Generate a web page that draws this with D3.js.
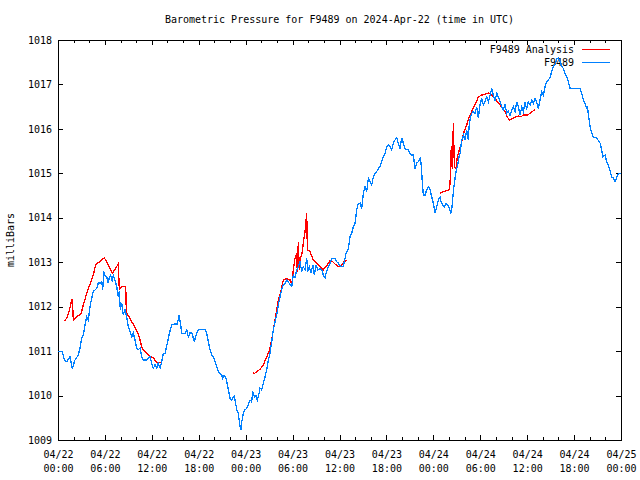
<!DOCTYPE html>
<html><head><meta charset="utf-8">
<script src="https://cdn.jsdelivr.net/npm/d3@7"></script>
<style>
body{margin:0;background:#fff}
svg{display:block}
text{font-family:"DejaVu Sans Mono","Liberation Mono",monospace;font-size:10px;fill:#000}
</style>
</head><body>
<svg id="chart" width="640" height="480"></svg>
<script>
// ---- data (hours after 2024-04-22 00:00 UTC, pressure in mb) ----
const blueHours = [
0,0.26,0.55,0.81,1.11,1.53,1.83,2.17,2.60,2.81,
3.03,3.24,3.45,3.67,3.88,4.09,4.31,4.51,4.95,5.15,
5.37,5.59,5.72,5.85,6.01,6.23,6.43,6.56,6.74,6.94,
7.07,7.29,7.51,7.71,7.84,7.97,8.15,8.35,8.57,8.79,
8.99,9.21,9.43,9.63,9.85,10.07,10.27,10.49,10.71,10.91,
11.34,11.55,11.77,11.98,12.19,12.41,12.62,12.83,13.05,13.26,
13.47,13.69,13.98,14.24,14.54,14.96,15.26,15.48,15.69,15.82,
16.24,16.46,16.67,16.88,17.10,17.30,17.43,17.65,17.94,18.80,
19.02,19.22,19.44,19.66,19.86,20.08,20.30,20.50,20.72,20.94,
21.07,21.23,21.49,21.58,21.78,22.00,22.22,22.51,22.64,22.86,
23.06,23.28,23.41,23.50,23.70,23.92,24.13,24.34,24.56,24.77,
24.90,25.11,25.32,25.49,25.67,25.84,26.05,26.26,26.48,26.69,
26.90,27.11,27.33,27.54,27.75,27.97,28.18,28.39,28.61,28.82,
29.03,29.25,29.46,29.67,29.89,30.09,30.31,30.53,30.73,30.95,
31.17,31.37,31.59,31.81,31.94,32.14,32.36,32.58,32.78,33.00,
33.22,33.51,33.73,33.93,34.15,34.28,34.57,34.79,35.01,35.43,
35.65,35.85,36.07,36.29,36.49,36.71,36.84,37.13,37.35,37.56,
37.77,37.99,38.20,38.41,38.63,38.84,39.05,39.27,39.48,39.69,
39.90,40.12,40.33,40.54,40.76,40.97,41.18,41.40,41.61,41.82,
42.04,42.25,42.46,42.68,42.88,43.10,43.32,43.52,43.74,43.96,
44.16,44.38,44.60,44.80,45.02,45.24,45.44,45.66,45.88,46.08,
46.30,46.43,46.59,46.72,46.94,47.15,47.36,47.58,47.80,48.00,
48.22,48.43,48.64,48.86,48.99,49.20,49.41,49.63,49.84,50.05,
50.26,50.39,50.56,50.69,50.90,51.12,51.33,51.42,51.63,51.84,
52.05,52.27,52.47,52.60,52.78,52.91,53.11,53.33,53.55,53.75,
53.97,54.19,54.39,54.61,54.83,55.04,55.25,55.47,55.67,55.89,
56.11,56.31,56.53,56.75,56.95,57.17,57.39,57.59,57.81,58.03,
58.23,58.45,58.67,58.87,59.09,59.31,59.51,59.73,59.95,60.15,
60.37,60.59,60.79,61.01,61.23,61.43,61.65,61.86,62.07,62.29,
62.50,62.93,63.15,63.35,63.57,63.79,63.99,64.21,64.43,64.63,
64.85,65.07,65.27,65.49,66.77,66.98,67.19,67.41,67.63,67.70,
67.83,68.05,68.26,68.47,68.90,69.33,69.54,69.67,69.96,70.18,
70.38,70.60,70.82,71.03,71.24,71.46,71.67,72.00
];
const bluePressure = [
1011.00,1010.99,1010.99,1010.80,1010.76,1010.87,1010.61,1010.80,1010.91,1011.07,
1011.30,1011.36,1011.59,1011.77,1011.70,1012.00,1012.19,1012.34,1012.41,1012.53,
1012.53,1012.56,1012.38,1012.79,1012.71,1012.67,1012.53,1012.67,1012.71,1012.56,
1012.70,1012.60,1012.45,1012.22,1012.34,1011.93,1012.08,1011.81,1011.93,1011.77,
1011.55,1011.44,1011.32,1011.41,1011.25,1011.06,1011.03,1011.07,1010.87,1010.80,
1010.80,1010.84,1010.87,1010.73,1010.61,1010.69,1010.62,1010.73,1010.62,1010.76,
1010.95,1010.95,1011.18,1011.40,1011.59,1011.61,1011.61,1011.81,1011.59,1011.40,
1011.40,1011.48,1011.32,1011.41,1011.41,1011.30,1011.21,1011.36,1011.49,1011.49,
1011.40,1011.21,1011.03,1010.91,1010.87,1010.76,1010.65,1010.54,1010.50,1010.46,
1010.39,1010.46,1010.39,1010.31,1010.13,1009.94,1009.90,1009.99,1009.90,1009.68,
1009.60,1009.30,1009.23,1009.41,1009.60,1009.68,1009.71,1009.79,1009.90,1009.86,
1010.09,1009.97,1010.01,1009.90,1010.01,1010.17,1010.13,1010.28,1010.42,1010.58,
1010.80,1010.95,1011.21,1011.48,1011.66,1011.81,1012.04,1012.22,1012.38,1012.49,
1012.53,1012.60,1012.56,1012.49,1012.45,1012.71,1012.65,1012.83,1012.90,1013.01,
1012.79,1012.90,1012.83,1013.09,1012.79,1012.90,1012.75,1012.94,1012.71,1012.94,
1012.83,1012.86,1012.83,1012.71,1012.65,1012.75,1012.90,1012.98,1013.09,1013.09,
1013.01,1012.98,1012.92,1012.90,1012.90,1013.09,1013.20,1013.31,1013.57,1013.65,
1013.80,1013.88,1014.18,1014.32,1014.33,1014.21,1014.55,1014.70,1014.59,1014.89,
1014.81,1014.74,1014.92,1015.00,1015.04,1015.11,1015.15,1015.26,1015.37,1015.45,
1015.60,1015.64,1015.60,1015.53,1015.68,1015.75,1015.80,1015.68,1015.56,1015.80,
1015.68,1015.56,1015.53,1015.53,1015.45,1015.41,1015.41,1015.11,1015.23,1015.26,
1015.34,1015.23,1014.81,1014.51,1014.51,1014.63,1014.70,1014.63,1014.47,1014.33,
1014.10,1014.25,1014.40,1014.47,1014.36,1014.29,1014.25,1014.33,1014.29,1014.21,
1014.10,1014.25,1014.59,1014.78,1015.04,1015.19,1015.41,1015.45,1015.75,1015.86,
1015.75,1015.98,1015.75,1016.13,1016.27,1016.35,1016.39,1016.35,1016.50,1016.24,
1016.54,1016.69,1016.54,1016.61,1016.72,1016.61,1016.76,1016.91,1016.76,1016.65,
1016.80,1016.72,1016.61,1016.50,1016.43,1016.54,1016.35,1016.39,1016.31,1016.43,
1016.50,1016.39,1016.61,1016.50,1016.31,1016.50,1016.39,1016.58,1016.46,1016.61,
1016.54,1016.65,1016.58,1016.69,1016.58,1016.46,1016.65,1016.84,1016.76,1016.95,
1017.06,1017.15,1017.30,1017.40,1017.46,1017.57,1017.60,1017.52,1017.40,1017.36,
1017.25,1017.17,1017.06,1016.91,1016.91,1016.79,1016.65,1016.56,1016.47,1016.52,
1016.31,1016.05,1015.90,1015.82,1015.79,1015.68,1015.51,1015.37,1015.41,1015.26,
1015.17,1015.06,1014.92,1014.89,1014.81,1014.92,1015.00,1015.00
];
// analysis series; null marks a gap in the record
const redHours = [
0.81,1.11,1.41,1.66,1.83,1.96,2.39,2.94,3.24,3.54,
3.88,4.22,4.51,4.82,5.15,5.59,5.92,6.23,6.65,6.94,
7.29,7.71,7.84,8.15,8.66,8.74,9.08,9.43,9.85,10.19,
10.49,10.71,10.91,11.34,11.77,12.19,12.62,13.26,
19,
24.90,25.07,25.41,25.84,26.26,26.69,27.02,27.33,27.54,27.75,
27.97,28.18,28.39,28.61,28.82,29.25,29.67,29.89,30.09,30.31,
30.53,30.60,30.73,30.86,31.04,31.17,31.37,31.59,31.72,31.81,
31.89,32.23,32.65,33.09,33.51,33.93,34.44,34.79,35.13,35.43,
35.85,36.29,36.58,36.92,
42,
48.86,49.28,49.71,50.05,50.14,50.30,50.42,50.56,50.69,50.90,
51.07,51.33,51.63,51.93,52.27,52.60,52.91,53.33,53.75,54.19,
54.74,55.04,55.47,55.89,56.31,56.75,57.17,57.46,57.72,58.03,
58.45,58.87,59.18,59.51,60.03,60.37,60.79,61.01
];
const redPressure = [
1011.68,1011.74,1011.89,1012.08,1012.17,1011.70,1011.77,1011.84,1012.04,1012.22,
1012.41,1012.56,1012.71,1012.94,1012.99,1013.05,1013.10,1013.01,1012.86,1012.75,
1012.84,1012.96,1012.39,1012.45,1012.46,1011.86,1011.77,1011.66,1011.54,1011.41,
1011.25,1011.10,1011.03,1010.95,1010.89,1010.85,1010.74,1010.74,
null,
1010.52,1010.49,1010.54,1010.59,1010.69,1010.87,1011.01,1011.25,1011.48,1011.70,
1011.93,1012.15,1012.26,1012.44,1012.60,1012.63,1012.60,1012.49,1012.83,1013.09,
1013.20,1012.79,1013.46,1012.83,1013.12,1013.16,1013.43,1013.69,1013.95,1014.11,
1013.28,1013.24,1013.05,1012.98,1012.90,1012.83,1012.94,1013.03,1013.01,1012.96,
1012.90,1012.94,1013.01,1013.05,
null,
1014.55,1014.59,1014.61,1014.63,1014.78,1015.62,1015.10,1016.13,1015.15,1015.10,
1015.37,1015.53,1015.71,1015.94,1016.09,1016.27,1016.39,1016.54,1016.72,1016.76,
1016.79,1016.81,1016.76,1016.69,1016.58,1016.49,1016.39,1016.27,1016.20,1016.22,
1016.26,1016.29,1016.27,1016.31,1016.31,1016.35,1016.41,1016.43
];
const yTickValues = [1009,1010,1011,1012,1013,1014,1015,1016,1017,1018];
const xMajorHours = [0,6,12,18,24,30,36,42,48,54,60,66,72];
const xMinorHours = d3.range(0, 73, 2);
const seriesNames = ["F9489 Analysis", "F9489"];
const seriesColors = ["#ff0000", "#0080ff"];
const titleText = "Barometric Pressure for F9489 on 2024-Apr-22 (time in UTC)";
const yLabelText = "milliBars";

// ---- layout ----
const L = 58, R = 621, T = 40, B = 440;
const t0 = Date.UTC(2024, 3, 22);
const toDate = h => new Date(t0 + h * 3600000);

const x = d3.scaleUtc().domain([toDate(0), toDate(72)]).range([L, R]);
const y = d3.scaleLinear().domain([1009, 1018]).range([B, T]);

const svg = d3.select("#chart");

// title
svg.append("text").attr("x", (L + R) / 2).attr("y", 23)
  .attr("text-anchor", "middle").text(titleText);

// y label
svg.append("text").attr("transform", "translate(14,240) rotate(-90)")
  .attr("text-anchor", "middle").text(yLabelText);

// axes (ticks inward)
const fmtDate = d3.utcFormat("%m/%d"), fmtTime = d3.utcFormat("%H:%M");

const gMinorB = svg.append("g").attr("transform", `translate(0,${B})`)
  .call(d3.axisBottom(x).tickValues(xMinorHours.map(toDate)).tickSize(-3).tickFormat(""));
const gMinorT = svg.append("g").attr("transform", `translate(0,${T})`)
  .call(d3.axisTop(x).tickValues(xMinorHours.map(toDate)).tickSize(-3).tickFormat(""));
const gB = svg.append("g").attr("transform", `translate(0,${B})`)
  .call(d3.axisBottom(x).tickValues(xMajorHours.map(toDate)).tickSize(-5).tickFormat(""));
const gT = svg.append("g").attr("transform", `translate(0,${T})`)
  .call(d3.axisTop(x).tickValues(xMajorHours.map(toDate)).tickSize(-5).tickFormat(""));
const gL = svg.append("g").attr("transform", `translate(${L},0)`)
  .call(d3.axisLeft(y).tickValues(yTickValues).tickSize(-5).tickPadding(6).tickFormat(d3.format("d")));
const gR = svg.append("g").attr("transform", `translate(${R},0)`)
  .call(d3.axisRight(y).tickValues(yTickValues).tickSize(-5).tickFormat(""));

[gMinorB, gMinorT, gB, gT, gL, gR].forEach(g => {
  g.select(".domain").remove();
  g.attr("font-family", null).attr("font-size", null);
  g.selectAll("line").attr("stroke", "#000").attr("shape-rendering", "crispEdges");
  g.selectAll("text").attr("fill", "#000");
});

// two-line x labels
gB.selectAll(".tick text").each(function(d) {
  const t = d3.select(this).attr("y", null).attr("dy", null);
  t.append("tspan").attr("x", 0).attr("y", 18).text(fmtDate(d));
  t.append("tspan").attr("x", 0).attr("y", 32).text(fmtTime(d));
});

// border
svg.append("rect").attr("x", L + 0.5).attr("y", T + 0.5)
  .attr("width", R - L).attr("height", B - T)
  .attr("fill", "none").attr("stroke", "#000").attr("shape-rendering", "crispEdges");

// legend
const legend = svg.append("g");
seriesNames.forEach((name, i) => {
  const ly = 49 + i * 13;
  legend.append("text").attr("x", 574).attr("y", ly + 3.5).attr("text-anchor", "end").text(name);
  legend.append("line").attr("x1", 582).attr("x2", 610).attr("y1", ly + 0.5).attr("y2", ly + 0.5)
    .attr("stroke", seriesColors[i]).attr("stroke-width", 1).attr("shape-rendering", "crispEdges");
});

// lines
const line = d3.line()
  .defined(d => d.v !== null)
  .x(d => x(toDate(d.h)))
  .y(d => y(d.v));

const redData = redHours.map((h, i) => ({h, v: redPressure[i]}));
const blueData = blueHours.map((h, i) => ({h, v: bluePressure[i]}));

svg.append("path").datum(redData).attr("d", line)
  .attr("fill", "none").attr("stroke", seriesColors[0]).attr("stroke-width", 1.3)
  .attr("shape-rendering", "crispEdges");
svg.append("path").datum(blueData).attr("d", line)
  .attr("fill", "none").attr("stroke", seriesColors[1]).attr("stroke-width", 1.3)
  .attr("shape-rendering", "crispEdges");
</script>
</body></html>
